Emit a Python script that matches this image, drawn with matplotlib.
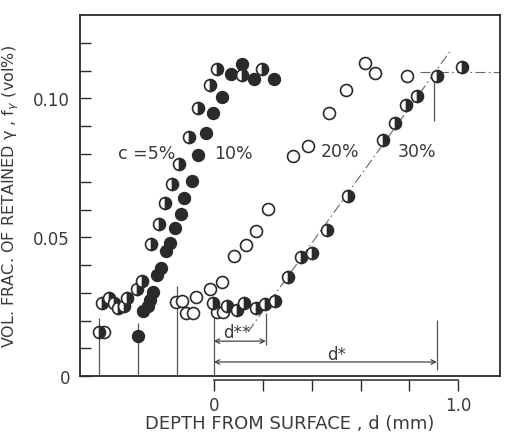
import numpy as np
import matplotlib
matplotlib.use("Agg")
import matplotlib.pyplot as plt

# depth d (mm) and volume fraction of retained gamma
d_5 = [-0.471, -0.459, -0.430, -0.408, -0.392, -0.367, -0.353, -0.316, -0.293,
       -0.258, -0.225, -0.200, -0.169, -0.143, -0.101, -0.064, -0.016, 0.011,
       0.116, 0.199]
f_5 = [0.0160, 0.0262, 0.0281, 0.0265, 0.0244, 0.0254, 0.0281, 0.0314, 0.0343,
       0.0475, 0.0548, 0.0623, 0.0692, 0.0764, 0.0860, 0.0964, 0.1047, 0.1105,
       0.1083, 0.1107]

d_10 = [-0.310, -0.289, -0.271, -0.262, -0.248, -0.234, -0.217, -0.194, -0.180,
        -0.157, -0.135, -0.123, -0.091, -0.064, -0.030, -0.003, 0.032, 0.072,
        0.116, 0.165, 0.247]
f_10 = [0.0145, 0.0235, 0.0254, 0.0274, 0.0302, 0.0365, 0.0391, 0.0449, 0.0479,
        0.0535, 0.0584, 0.0642, 0.0701, 0.0795, 0.0874, 0.0946, 0.1005, 0.1087,
        0.1125, 0.1069, 0.1071]

d_20 = [-0.449, -0.155, -0.132, -0.115, -0.085, -0.071, -0.016, 0.011, 0.032,
        0.038, 0.083, 0.130, 0.171, 0.220, 0.324, 0.386, 0.471, 0.540, 0.618,
        0.659, 0.790]
f_20 = [0.0160, 0.0268, 0.0272, 0.0226, 0.0226, 0.0286, 0.0313, 0.0232, 0.0340,
        0.0232, 0.0433, 0.0473, 0.0521, 0.0603, 0.0791, 0.0830, 0.0949, 0.1031,
        0.1128, 0.1090, 0.1079]

d_30 = [-0.003, 0.052, 0.093, 0.124, 0.172, 0.209, 0.250, 0.304, 0.356, 0.402,
        0.461, 0.550, 0.690, 0.741, 0.786, 0.829, 0.914, 1.016]
f_30 = [0.0262, 0.0254, 0.0238, 0.0262, 0.0247, 0.0260, 0.0272, 0.0356, 0.0428,
        0.0442, 0.0527, 0.0650, 0.0852, 0.0910, 0.0975, 0.1008, 0.1081, 0.1114]

conc_labels = ['c =5%', '10%', '20%', '30%']
label_d = [-0.275, 0.082, 0.516, 0.831]
label_f = [0.0805, 0.0805, 0.081, 0.081]

# surface position of each specimen and height of its marker line
surface_d = [-0.471, -0.310, -0.150, 0.0]
surface_top = [0.021, 0.019, 0.0325, 0.0225]

# linear fit for c=30% and saturation level
fit_d = [0.14, 0.966]
fit_f = [0.016, 0.117]
sat_f = 0.1094
sat_d = [0.843, 1.17]
d_star = 0.912
d_2star = 0.213

ink = '#2a2a2a'
plt.rcParams['font.family'] = ['DejaVu Sans']
plt.rcParams['text.color'] = ink

fig = plt.figure(figsize=(5.05, 4.35), dpi=100)
ax = fig.add_axes([0.158, 0.133, 0.832, 0.830])

ax.set_xlim(-0.548, 1.17)
ax.set_ylim(0, 0.13)

ms = 8.6
ax.plot(d_10, f_10, 'o', ms=ms, mfc=ink, mec=ink, mew=1.0, zorder=3)
ax.plot(d_20, f_20, 'o', ms=ms, mfc='white', mec=ink, mew=1.2, zorder=3)
ax.plot(d_5, f_5, 'o', ms=ms, fillstyle='right', mfc=ink, mfcalt='white',
        mec=ink, mew=1.2, zorder=4)
ax.plot(d_30, f_30, 'o', ms=ms, fillstyle='right', mfc=ink, mfcalt='white',
        mec=ink, mew=1.2, zorder=4)

for lab, x, y in zip(conc_labels, label_d, label_f):
    ax.text(x, y, lab, fontsize=12.5, ha='center', va='center', color='#3a3a3a')

# surface marker lines
ax.vlines(surface_d, 0, surface_top, color='#555555', lw=0.9, zorder=1)

# fitted line and saturation
ax.plot(fit_d, fit_f, color='#666666', lw=0.8, ls=(0, (9, 3, 1.5, 3)), zorder=2)
ax.plot(sat_d, [sat_f, sat_f], color='#666666', lw=0.8, ls=(0, (9, 3, 1.5, 3)),
        zorder=2, clip_on=True)
ax.vlines(0.901, 0.0918, sat_f, color='#555555', lw=0.9)

# d** and d*
ax.vlines(d_2star, 0.0112, 0.0227, color='#555555', lw=0.9)
ax.vlines(d_star, 0.0022, 0.0202, color='#555555', lw=0.9)
ax.annotate('', xy=(0, 0.0126), xytext=(d_2star, 0.0126),
            arrowprops=dict(arrowstyle='<->', lw=0.9, color='#444444',
                            mutation_scale=8, shrinkA=0, shrinkB=0))
ax.annotate('', xy=(0, 0.0051), xytext=(d_star, 0.0051),
            arrowprops=dict(arrowstyle='<->', lw=0.9, color='#444444',
                            mutation_scale=8, shrinkA=0, shrinkB=0))
ax.text(0.095, 0.0158, 'd**', fontsize=12, ha='center', va='center', color='#3a3a3a')
ax.text(0.50, 0.0078, 'd*', fontsize=12, ha='center', va='center', color='#3a3a3a')

# frame
for s in ax.spines.values():
    s.set_color(ink)
    s.set_linewidth(1.3)

ax.set_yticks(np.arange(0, 0.121, 0.01))
ax.set_yticklabels(['0', '', '', '', '', '0.05', '', '', '', '', '0.10', '', ''])
ax.tick_params(axis='y', direction='in', length=8, width=1.0, color=ink,
               labelsize=12, labelcolor='#3a3a3a', pad=7)
ax.tick_params(axis='x', bottom=False, labelbottom=False)

# depth scale drawn below the frame
sec = ax.secondary_xaxis(-0.012)
sec.set_xticks(np.arange(0, 1.01, 0.2))
sec.set_xticklabels(['0', '', '', '', '', '1.0'])
sec.spines['bottom'].set_bounds(0, 1.0)
sec.spines['bottom'].set_color(ink)
sec.spines['bottom'].set_linewidth(1.1)
sec.tick_params(direction='out', length=8, width=1.0, color=ink,
                labelsize=12, labelcolor='#3a3a3a', pad=3)
sec.set_xlabel('DEPTH FROM SURFACE , d (mm)', fontsize=13, color='#3a3a3a',
               labelpad=0)

ax.set_ylabel('VOL. FRAC. OF RETAINED γ , f$_γ$ (vol%)', fontsize=11.5,
              color='#3a3a3a', labelpad=9)

fig.savefig('out.png', dpi=100, facecolor='white')
